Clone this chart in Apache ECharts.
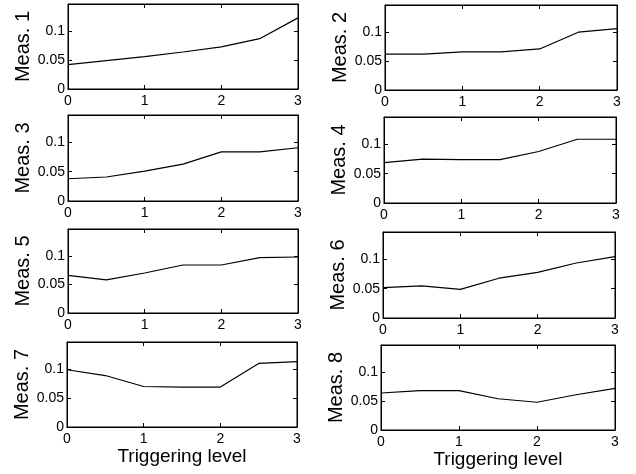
<!DOCTYPE html>
<html>
<head>
<meta charset="utf-8">
<script src="https://cdn.jsdelivr.net/npm/echarts@6/dist/echarts.min.js"></script>
<style>html,body{margin:0;padding:0;background:#fff;}#c{width:636px;height:474px;}</style>
</head>
<body>
<div id="c"></div>
<script>
// Data
const triggeringLevels = [0, 0.5, 1, 1.5, 2, 2.5, 3];
const xTicks = [0, 1, 2, 3];
const yTicks = [0, 0.05, 0.1];
const seriesNames = ['Meas. 1','Meas. 2','Meas. 3','Meas. 4','Meas. 5','Meas. 6','Meas. 7','Meas. 8'];
const meas1 = [0.042, 0.049, 0.056, 0.064, 0.073, 0.087, 0.123];
const meas2 = [0.062, 0.062, 0.066, 0.066, 0.071, 0.100, 0.106];
const meas3 = [0.038, 0.041, 0.051, 0.063, 0.084, 0.084, 0.091];
const meas4 = [0.069, 0.075, 0.074, 0.074, 0.088, 0.109, 0.109];
const meas5 = [0.066, 0.058, 0.070, 0.084, 0.084, 0.097, 0.098];
const meas6 = [0.052, 0.055, 0.049, 0.068, 0.078, 0.094, 0.105];
const meas7 = [0.099, 0.089, 0.070, 0.069, 0.069, 0.110, 0.113];
const meas8 = [0.064, 0.068, 0.068, 0.054, 0.048, 0.061, 0.072];
const allMeas = [meas1, meas2, meas3, meas4, meas5, meas6, meas7, meas8];
const xLabel = 'Triggering level';

// Layout (pixel boxes of each panel)
const lefts  = [68, 385, 68, 384, 68, 383, 67, 381];
const rights = [298, 617, 298, 616, 298, 615, 297, 615];
const tops   = [4, 5, 115, 117, 229, 232, 342, 345];
const bottoms= [89, 90, 201, 203, 313, 318, 427, 430];

const font = "'Liberation Sans', Arial, Helvetica, sans-serif";
const chart = echarts.init(document.getElementById('c'), null, {renderer: 'canvas'});

const grids = [], xAxes = [], yAxes = [], series = [];
const Y_MAX = 0.147;
for (let i = 0; i < 8; i++) {
  grids.push({left: lefts[i], top: tops[i], width: rights[i] - lefts[i], height: bottoms[i] - tops[i],
    show: true, borderColor: '#000', borderWidth: 1, containLabel: false});
  const isBottom = i >= 6;
  xAxes.push({type: 'value', gridIndex: i, min: xTicks[0], max: xTicks[xTicks.length-1], interval: 1,
    position: 'bottom',
    axisLine: {show: true, onZero: false, lineStyle: {color: '#000', width: 1}},
    axisTick: {show: true, inside: true, length: 4, lineStyle: {color: '#000'}},
    axisLabel: {show: true, color: '#000', fontFamily: font, fontSize: 14, margin: 5},
    splitLine: {show: false},
    name: isBottom ? xLabel : '', nameLocation: 'middle', nameGap: 17,
    nameTextStyle: {color: '#000', fontFamily: font, fontSize: 19}});
  xAxes.push({type: 'value', gridIndex: i, min: 0, max: 3, interval: 1, position: 'top',
    axisLine: {show: true, onZero: false, lineStyle: {color: '#000', width: 1}},
    axisTick: {show: true, inside: true, length: 4, lineStyle: {color: '#000'}},
    axisLabel: {show: false}, splitLine: {show: false}});
  yAxes.push({type: 'value', gridIndex: i, min: 0, max: Y_MAX, interval: 0.05, position: 'left',
    axisLine: {show: true, onZero: false, lineStyle: {color: '#000', width: 1}},
    axisTick: {show: true, inside: true, length: 4, lineStyle: {color: '#000'}},
    axisLabel: {show: true, color: '#000', fontFamily: font, fontSize: 14, margin: 3,
      formatter: v => yTicks.some(t => Math.abs(t - v) < 1e-9) ? String(+v.toFixed(2)) : ''},
    splitLine: {show: false},
    name: seriesNames[i], nameLocation: 'middle', nameGap: 31, nameRotate: 90,
    nameTextStyle: {color: '#000', fontFamily: font, fontSize: 20}});
  yAxes.push({type: 'value', gridIndex: i, min: 0, max: Y_MAX, interval: 0.05, position: 'right',
    axisLine: {show: true, onZero: false, lineStyle: {color: '#000', width: 1}},
    axisTick: {show: true, inside: true, length: 4, lineStyle: {color: '#000'}},
    axisLabel: {show: false}, splitLine: {show: false}});
  series.push({type: 'line', name: seriesNames[i], xAxisIndex: 2*i, yAxisIndex: 2*i,
    data: triggeringLevels.map((x, k) => [x, allMeas[i][k]]),
    showSymbol: false, symbol: 'none', animation: false,
    lineStyle: {color: '#000', width: 1.2}});
}

chart.setOption({
  backgroundColor: '#fff',
  animation: false,
  grid: grids, xAxis: xAxes, yAxis: yAxes, series: series
});
</script>
</body>
</html>
